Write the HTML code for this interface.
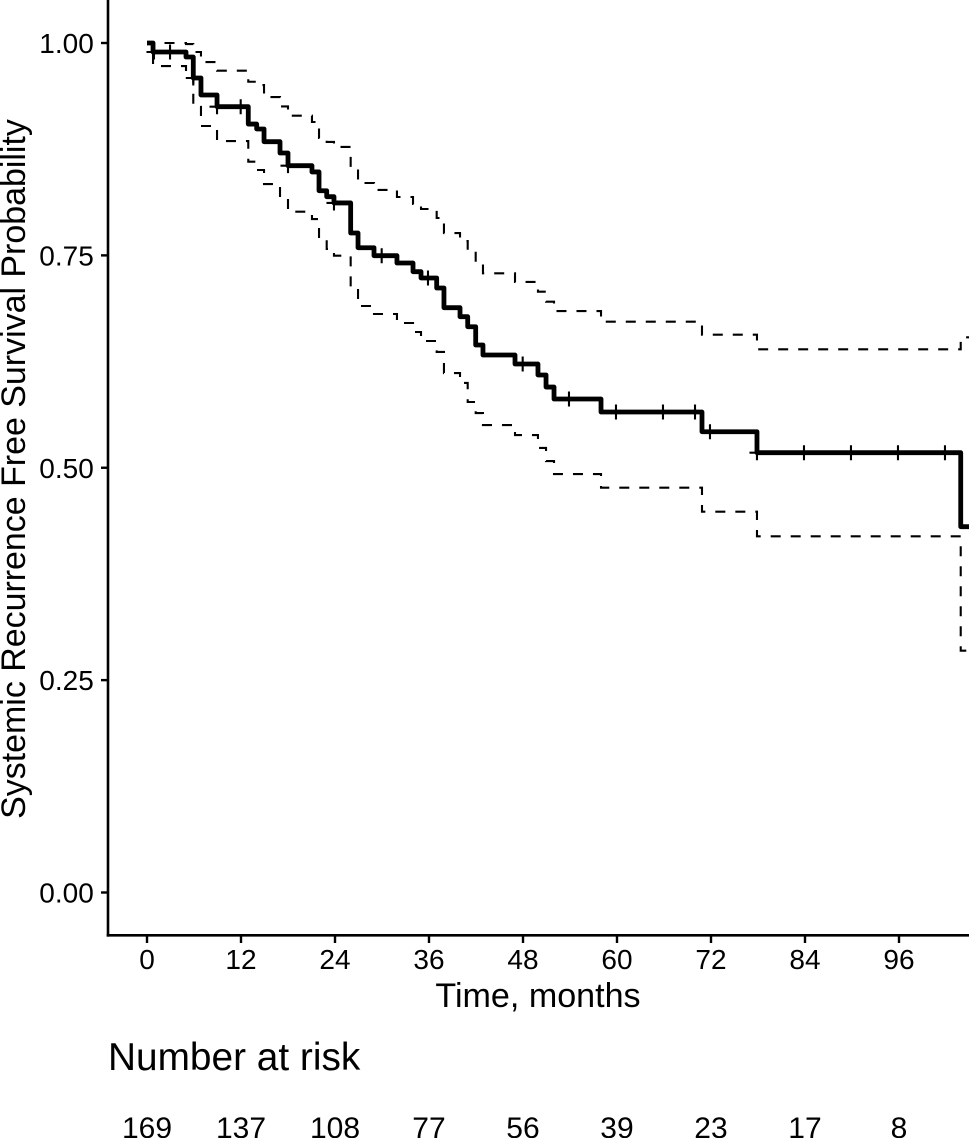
<!DOCTYPE html>
<html lang="en">
<head>
<meta charset="utf-8">
<title>Systemic Recurrence Free Survival</title>
<style>
html,body{margin:0;padding:0;background:#fff;width:969px;height:1138px;overflow:hidden}
svg{display:block}
text{font-family:"Liberation Sans",Arial,sans-serif;fill:#000}
</style>
</head>
<body>
<svg id="chart" width="969" height="1138" viewBox="0 0 969 1138" xmlns="http://www.w3.org/2000/svg"></svg>
<script>
const stepMonths = [0,0.77,4.98,5.91,6.89,8.94,12.93,14.00,14.94,16.98,18.00,21.06,21.96,22.94,23.87,26.00,26.94,28.98,31.91,33.96,34.98,36.98,37.91,39.96,40.94,41.96,42.89,46.98,49.91,50.94,51.96,57.96,70.85,77.87,103.88];
const survival = [1,.9894,.9835,.9588,.9388,.9250,.9046,.8988,.8838,.8705,.8556,.8482,.8261,.8191,.8117,.7763,.7590,.7496,.7410,.7308,.7234,.7116,.6884,.6778,.6660,.6445,.6327,.6221,.6092,.5950,.5809,.5656,.5424,.5177,.4306];
const upperCI = [1,1,.9988,.9894,.9776,.9674,.9544,.9505,.9364,.9253,.9144,.9070,.8882,.8835,.8776,.8528,.8352,.8270,.8187,.8105,.8046,.7940,.7763,.7669,.7563,.7422,.7289,.7187,.7072,.6955,.6845,.6719,.6566,.6394,.6536];
const lowerCI = [1,.9729,.9623,.9247,.9023,.8846,.8603,.8505,.8340,.8175,.8014,.7928,.7693,.7575,.7496,.7128,.6904,.6810,.6704,.6598,.6492,.6363,.6115,.5998,.5774,.5644,.5503,.5385,.5233,.5079,.4926,.4765,.4483,.4193,.2846];
const censorMonths = [0.89,2.94,5.91,8.94,11.96,18.00,23.87,29.96,35.87,47.96,53.87,59.87,65.87,69.96,71.87,77.87,83.87,89.87,95.87,101.87];
const xTicks = [0,12,24,36,48,60,72,84,96];
const yTicks = [0,0.25,0.5,0.75,1];
const yTickLabels = ["0.00","0.25","0.50","0.75","1.00"];
const atRisk = [169,137,108,77,56,39,23,17,8];
const endMonth = 104.94;

const NS = "http://www.w3.org/2000/svg";
const svg = document.getElementById("chart");
const xScale = m => 147 + m * 7.8333;
const yScale = s => 892.5 - s * 849.5;

function shape(tag, props) {
  const el = document.createElementNS(NS, tag);
  for (const k in props) el.setAttribute(k, props[k]);
  svg.appendChild(el);
  return el;
}
function stepPath(values) {
  let d = "M" + xScale(stepMonths[0]).toFixed(2) + " " + yScale(values[0]).toFixed(2);
  for (let i = 1; i < stepMonths.length; i++) {
    d += "H" + xScale(stepMonths[i]).toFixed(2) + "V" + yScale(values[i]).toFixed(2);
  }
  return d + "H" + xScale(endMonth).toFixed(2);
}
function survivalAt(m) {
  let s = survival[0];
  for (let i = 0; i < stepMonths.length; i++) if (stepMonths[i] <= m) s = survival[i];
  return s;
}

/* axes */
const yAxis = shape("line", {x1:108, y1:0, x2:108, y2:936.6, stroke:"#000", "stroke-width":2.6});


const xAxis = shape("line", {x1:106.7, y1:935.3, x2:969, y2:935.3, stroke:"#000", "stroke-width":2.6});



yTicks.forEach((v, i) => {
  const t = shape("line", {x1:101, x2:108, y1:yScale(v), y2:yScale(v), stroke:"#000", "stroke-width":2.4});
  
  
  const l = shape("text", {x:93.8, y:yScale(v) + 10, "text-anchor":"end", "font-size":28});
  l.textContent = yTickLabels[i];
  
  
});
xTicks.forEach(v => {
  const t = shape("line", {x1:xScale(v), x2:xScale(v), y1:935.3, y2:943, stroke:"#000", "stroke-width":2.4});
  
  
  const l = shape("text", {x:xScale(v), y:969, "text-anchor":"middle", "font-size":28});
  l.textContent = String(v);
  
  
});

/* series */
const upperLine = shape("path", {d:stepPath(upperCI), fill:"none", stroke:"#000", "stroke-width":2.1, "stroke-dasharray":"10 10", "stroke-dashoffset":2.5});


const lowerLine = shape("path", {d:stepPath(lowerCI), fill:"none", stroke:"#000", "stroke-width":2.1, "stroke-dasharray":"10 10", "stroke-dashoffset":3});


const mainLine = shape("path", {d:stepPath(survival), fill:"none", stroke:"#000", "stroke-width":4.8, "stroke-linejoin":"round"});



censorMonths.forEach(m => {
  const cx = xScale(m), cy = yScale(survivalAt(m));
  const c = shape("path", {d:"M" + (cx - 7.5) + " " + cy + "H" + (cx + 7.5) + "M" + cx + " " + (cy - 7.5) + "V" + (cy + 7.5), fill:"none", stroke:"#000", "stroke-width":2.1});
  
  
});

/* titles */
const xTitle = shape("text", {x:538, y:1007, "text-anchor":"middle", "font-size":34.1});
xTitle.textContent = "Time, months";


const yTitle = shape("text", {x:0, y:0, "text-anchor":"middle", "font-size":33.95, transform:"translate(25 469) rotate(-90)"});
yTitle.textContent = "Systemic Recurrence Free Survival Probability";


const riskTitle = shape("text", {x:108, y:1070, "font-size":38.8});
riskTitle.textContent = "Number at risk";



xTicks.forEach((v, i) => {
  const r = shape("text", {x:xScale(v), y:1138, "text-anchor":"middle", "font-size":30});
  r.textContent = String(atRisk[i]);
  
  
});
</script>
</body>
</html>
